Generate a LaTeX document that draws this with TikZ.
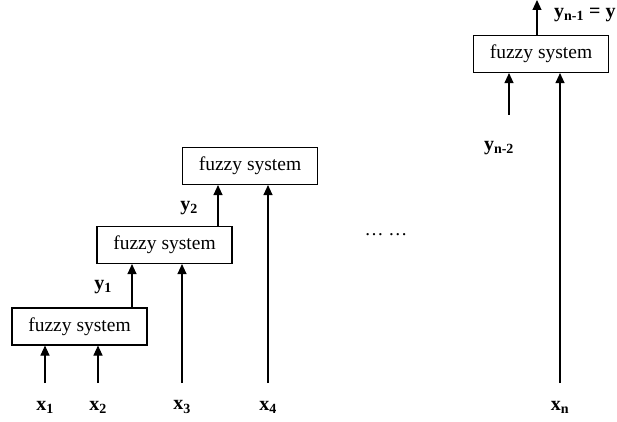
\documentclass[tikz,border=0pt]{standalone}
\usepackage{fontspec}
\setmainfont{Liberation Serif}
\usetikzlibrary{arrows.meta}
\begin{document}
\begin{tikzpicture}[x=1pt,y=1pt,
  fbox/.style={draw,line width=1.1pt,minimum width=135pt,minimum height=37pt,inner sep=0pt,font=\fontsize{19.5}{22}\selectfont},
  sig/.style={font=\fontsize{20}{22}\selectfont\bfseries},
  flow/.style={line width=1.1pt,-{Triangle[length=10pt,width=9pt]}}]
\useasboundingbox (0,0) rectangle (617,421);
% the chain of fuzzy systems
\node[fbox] (f1) at (79.5,94.5) {fuzzy system};
\node[fbox] (f2) at (164.5,176) {fuzzy system};
\node[fbox] (f3) at (250,255) {fuzzy system};
\node[fbox] (fn) at (541,367) {fuzzy system};
% input and intermediate signals
\node[sig] (x1) at (45,14) {x\textsubscript{1}};
\node[sig] (x2) at (98,14) {x\textsubscript{2}};
\node[sig] (x3) at (182,14) {x\textsubscript{3}};
\node[sig] (x4) at (268,14) {x\textsubscript{4}};
\node[sig] (xn) at (560,14) {x\textsubscript{n}};
\node[sig] (y1) at (103,134) {y\textsubscript{1}};
\node[sig] (y2) at (189,213) {y\textsubscript{2}};
\node[sig] (yn2) at (499,273) {y\textsubscript{n-2}};
\node[sig,anchor=west,inner sep=0pt] (yout) at (554,406) {y\textsubscript{n-1} = y};
\node[font=\fontsize{19}{22}\selectfont] (dots) at (386,186) {\dots\ \dots};
% arrow start points
\coordinate (s1) at (45,38);
\coordinate (s2) at (98,38);
\coordinate (s3) at (182,38);
\coordinate (s4) at (268,38);
\coordinate (sn) at (560,38);
\coordinate (sy) at (509,306);
\coordinate (top) at (537,421);
% connectors
\draw[flow] (s1) -- (s1 |- f1.south);
\draw[flow] (s2) -- (s2 |- f1.south);
\draw[flow] (s3) -- (s3 |- f2.south);
\draw[flow] (s4) -- (s4 |- f3.south);
\draw[flow] (sn) -- (sn |- fn.south);
\draw[flow] (sy) -- (sy |- fn.south);
\draw[flow] (f1.north -| 132,0) -- (f2.south -| 132,0);
\draw[flow] (f2.north -| 218,0) -- (f3.south -| 218,0);
\draw[flow] (fn.north -| top) -- (top);
\end{tikzpicture}
\end{document}
